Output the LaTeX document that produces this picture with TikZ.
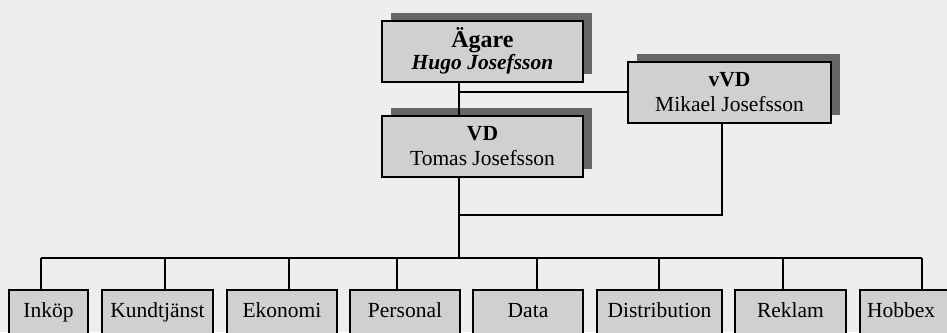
\documentclass[tikz,border=0pt]{standalone}
\usepackage{fontspec}
\setmainfont{Liberation Serif}
\usetikzlibrary{
    shadows,
    calc
}
\definecolor{bakgrund}{HTML}{EEEEEE}
\definecolor{ruta}{HTML}{D0D0D0}
\definecolor{skugga}{HTML}{666666}
\tikzset{
  ledning/.style={
    draw=black,
    fill=ruta,
    rectangle,
    align=center,
    inner sep=0pt,
    minimum width=201pt,
    minimum height=61pt,
    font=\fontsize{21.5}{25}\selectfont,
    drop shadow={shadow xshift=9pt, shadow yshift=8pt, fill=skugga, opacity=1}
  },
  avdelning/.style={
    draw=black,
    fill=ruta,
    rectangle,
    inner sep=0pt,
    minimum height=44pt,
    text height=15pt,
    text depth=5pt,
    font=\fontsize{21.5}{25}\selectfont
  }
}

\begin{document}
\begin{tikzpicture}[x=1pt, y=-1pt, line width=2pt]
    \useasboundingbox (0,0) rectangle (947,332);
    \clip (0,0) rectangle (947,332);
    \fill[bakgrund] (0,0) rectangle (947,332);

    % ledning
    \node[ledning] (agare) at (482.5,51)
        {{\fontsize{24}{26}\selectfont\bfseries Ägare}\\[-3pt]\textbf{\textit{Hugo Josefsson}}};
    \node[ledning] (vd) at (482.5,146.5) {\textbf{VD}\\Tomas Josefsson};
    \node[ledning, minimum width=203pt] (vvd) at (729.5,92) {\textbf{vVD}\\Mikael Josefsson};

    % avdelningar
    \node[avdelning, minimum width=79pt] (inkop) at (48.5,312) {Inköp};
    \node[avdelning, minimum width=111pt] (kundtjanst) at (157.5,312) {Kundtjänst};
    \node[avdelning, minimum width=110pt] (ekonomi) at (282,312) {Ekonomi};
    \node[avdelning, minimum width=110pt] (personal) at (405,312) {Personal};
    \node[avdelning, minimum width=110pt] (data) at (528,312) {Data};
    \node[avdelning, minimum width=125pt] (distribution) at (659.5,312) {Distribution};
    \node[avdelning, minimum width=111pt] (reklam) at (790.5,312) {Reklam};
    \node[avdelning, minimum width=110pt, text width=96pt] (hobbex) at (915,312) {Hobbex};

    % linjer
    \coordinate (spine) at (459,0);
    \coordinate (vvdlink) at (722,215);
    \draw (agare.south -| spine) -- (vd.north -| spine);
    \draw (vvd.west) -- (vvd.west -| spine);
    \draw (vvd.south -| vvdlink) -- (vvdlink) -- (vvdlink -| spine);

    \foreach \n/\sx [count=\i] in {inkop/41, kundtjanst/165, ekonomi/289, personal/397,
                                   data/537, distribution/659, reklam/783, hobbex/922} {
        \coordinate (s\i) at (\sx,258);
        \draw (s\i) -- (s\i |- \n.north);
    }
    \draw (vd.south -| spine) -- (s1 -| spine);
    \draw (s1) -- (s8);
\end{tikzpicture}
\end{document}
